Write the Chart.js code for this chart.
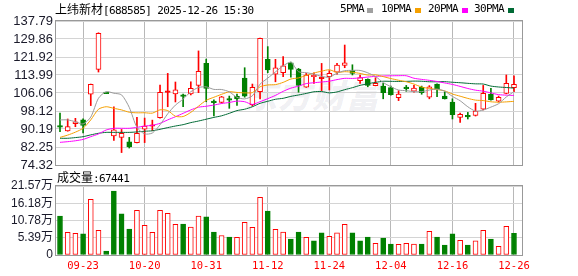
<!DOCTYPE html>
<html><head><meta charset="utf-8">
<script src="https://cdn.jsdelivr.net/npm/chart.js@4.4.1/dist/chart.umd.min.js"></script>
<style>
body{margin:0;background:#fff}
#wrap{position:relative;width:578px;height:276px;overflow:hidden;background:#fff}
.abs{position:absolute;white-space:nowrap;line-height:12px}
.cjk{font-family:"Noto Sans CJK SC",sans-serif;font-size:12px;color:#000}
.mono{font-family:"DejaVu Sans Mono",monospace;font-size:11px;letter-spacing:-0.6px;color:#000}
.sq{position:absolute;width:6px;height:5px}
.wm{position:absolute;left:244px;top:70px;font-family:"Noto Sans CJK SC",sans-serif;font-weight:900;font-style:italic;font-size:33px;color:rgba(40,40,80,0.08);letter-spacing:1px}
canvas{position:absolute;left:0}
</style></head>
<body>
<div id="wrap">
  <div class="wm">东方财富</div>
  <canvas id="pc" width="578" height="180" style="top:0"></canvas>
  <canvas id="vc" width="578" height="106" style="top:170px"></canvas>
  <div class="abs" style="left:55px;top:3px"><span class="cjk">上纬新材</span><span class="mono">[688585] 2025-12-26 15:30</span></div>
  <div class="abs mono" style="left:340px;top:3px">5PMA</div><div class="sq" style="left:367px;top:8px;background:#a0a0a0"></div>
  <div class="abs mono" style="left:381px;top:3px">10PMA</div><div class="sq" style="left:415px;top:8px;background:#f5a000"></div>
  <div class="abs mono" style="left:428px;top:3px">20PMA</div><div class="sq" style="left:462px;top:8px;background:#ff00ff"></div>
  <div class="abs mono" style="left:474px;top:3px">30PMA</div><div class="sq" style="left:508px;top:8px;background:#006a35"></div>
  <div class="abs" style="left:57px;top:171px"><span class="cjk">成交量</span><span class="mono">:67441</span></div>
</div>
<script>
const dates = ['09-18','09-19','09-22','09-23','09-24','09-25','09-26','09-29','09-30','10-09','10-10','10-20','10-21','10-22','10-23','10-24','10-27','10-28','10-30','10-31','11-03','11-04','11-05','11-06','11-07','11-10','11-11','11-12','11-13','11-14','11-17','11-18','11-19','11-20','11-21','11-24','11-25','11-26','11-27','11-28','12-01','12-02','12-03','12-04','12-05','12-08','12-09','12-10','12-11','12-12','12-15','12-16','12-17','12-18','12-19','12-22','12-23','12-24','12-25','12-26'];
const tickDates = ['09-23','10-20','10-31','11-12','11-24','12-04','12-16','12-26'];
const opens  = [91.5,89.3,92.5,94.2,105.5,116.5,105.9,87.1,86.5,84.5,84.2,90.1,91.4,95.2,106.3,105.6,104.8,105.6,109.4,119.1,102.0,101.9,103.1,104.6,112.6,100.9,106.6,120.9,114.3,115.0,119.4,116.6,108.6,113.2,112.4,113.2,115.2,118.2,115.9,111.5,112.1,109.3,109.1,108.4,104.0,108.2,106.9,108.6,104.2,110.0,104.7,102.1,95.3,95.7,96.2,98.9,105.6,102.4,105.9,108.4];
const highs  = [97.2,94.6,94.9,94.7,110.0,132.6,105.9,100.0,90.0,86.5,95.3,95.0,94.1,109.6,114.7,110.9,105.6,111.0,124.6,121.0,103.0,104.6,104.7,105.6,117.2,110.0,130.3,126.5,120.9,122.1,119.7,116.9,114.7,115.0,119.1,115.9,119.1,127.2,118.5,114.0,112.3,112.8,110.3,109.1,107.1,109.4,109.4,109.1,109.3,110.1,106.6,103.5,97.2,97.5,101.5,109.4,108.1,104.7,114.0,113.6];
const lows   = [89.0,89.2,91.2,88.5,100.5,115.3,105.8,85.2,79.8,81.8,84.0,84.2,89.5,95.0,100.0,102.1,100.0,105.2,106.2,102.2,96.0,101.6,99.3,100.6,104.2,100.3,103.4,115.0,111.0,113.2,113.0,106.4,108.5,110.3,107.1,107.4,114.4,117.2,114.0,110.3,108.8,109.2,103.5,105.1,102.7,106.8,106.4,105.5,103.5,104.4,103.4,94.6,93.1,94.6,95.9,98.6,102.9,102.1,105.7,106.6];
const closes = [91.0,91.2,93.4,91.8,109.9,132.4,105.8,89.8,88.3,82.3,88.3,91.5,91.7,106.4,106.6,107.4,104.6,108.1,115.6,108.1,101.8,104.4,102.9,103.5,104.7,108.6,130.1,116.2,117.2,118.0,116.5,109.4,114.0,113.9,113.0,114.7,118.4,119.4,114.7,112.8,109.4,110.3,106.2,105.3,105.6,108.0,108.2,106.2,108.8,107.7,103.5,96.5,96.7,95.5,98.1,105.9,103.0,104.2,110.3,109.9];
const volumes = [12.2,7.1,6.8,6.6,17.4,7.7,1.25,20.0,12.9,8.1,14.0,9.3,7.1,14.0,13.0,9.6,9.7,8.7,12.2,11.9,7.2,6.1,5.6,5.5,10.2,8.65,18.0,13.75,8.0,7.2,5.0,7.2,5.5,4.4,6.9,5.8,6.9,9.6,6.9,4.4,5.6,3.65,5.3,3.4,3.3,3.65,3.4,3.4,7.4,5.6,3.1,6.6,4.6,3.1,4.4,7.7,5.0,2.7,9.0,6.7441];
// MA values before enough in-window closes exist
const ma5Lead  = [94.2,94.2,93.4,92.4];
const ma10Lead = [86.5,87.5,88.8,90.5,94.2,98.9,100.0,99.3,98.6];
const ma20Lead = [84.3,84.6,85.0,85.6,86.8,88.0,89.75,90.5,90.5,90.5,90.9,91.5,91.8,92.7,94.2,95.6,97.1,98.6,99.8];
const ma30Lead = [86.1,86.1,86.4,86.8,87.6,88.3,88.7,88.7,88.7,88.7,88.9,89.2,89.4,90.05,90.8,91.5,92.1,93.0,93.7,94.5,95.3,96.0,97.1,98.3,98.9,100.0,101.5,102.4,103.3];
const priceTicks = [74.32,82.25,90.19,98.12,106.06,113.99,121.92,129.86,137.79];
const volTicks = [0,5.39,10.78,16.18,21.57];

const RED='#ff0000', GREEN='#008000';
function sma(n, lead){
  return closes.map((c,i)=>{
    if(i<lead.length) return {x:i,y:lead[i]};
    let s=0; for(let k=i-n+1;k<=i;k++) s+=closes[k];
    return {x:i,y:s/n};
  });
}
const up = closes.map((c,i)=>c>=opens[i]);
const volUp = closes.map((c,i)=> i===0 ? c>=opens[0] : c>=closes[i-1]);
const tickIdx = tickDates.map(d=>dates.indexOf(d));

const boxPlugin = {id:'box', afterDraw(ch){
  const a=ch.chartArea, c=ch.ctx; c.save(); c.strokeStyle='#999'; c.lineWidth=1;
  c.strokeRect(Math.round(a.left)-0.5, Math.round(a.top)-0.5, Math.round(a.right-a.left)+1, Math.round(a.bottom-a.top)+1);
  c.restore();
}};

const xCommon = (showLabels)=>({
  type:'linear', min:-0.52, max:60.04, offset:false,
  afterBuildTicks: ax=>{ ax.ticks = tickIdx.map(v=>({value:v})); },
  grid:{offset:false, color:'#b8b8b8', borderDash:[4,3], drawTicks:false, lineWidth:1},
  border:{display:false},
  ticks:{display:showLabels, autoSkip:false, maxRotation:0, padding:5, color:RED,
    font:{family:'DejaVu Sans Mono', size:10.5}, callback:v=>dates[v]}
});

Chart.defaults.animation=false;
Chart.defaults.font.family='Liberation Sans';

new Chart(document.getElementById('pc'), {
  type:'bar',
  data:{datasets:[
    {type:'line', data:sma(5,ma5Lead), borderColor:'#9a9a9a', borderWidth:1, pointRadius:0, tension:0.25},
    {type:'line', data:sma(10,ma10Lead), borderColor:'#f5a000', borderWidth:1, pointRadius:0, tension:0.25},
    {type:'line', data:sma(20,ma20Lead), borderColor:'#ff00ff', borderWidth:1, pointRadius:0, tension:0.25},
    {type:'line', data:sma(30,ma30Lead), borderColor:'#006a35', borderWidth:1, pointRadius:0, tension:0.25},
    {type:'bar', grouped:false, barThickness:5, minBarLength:1.5, borderWidth:1, borderSkipped:false,
      data: closes.map((c,i)=>({x:i, y:[opens[i], c]})),
      borderColor: up.map(u=>u?RED:GREEN),
      backgroundColor: closes.map((c,i)=> up[i] ? (Math.abs(c-opens[i])<0.6?RED:'#ffffff') : GREEN)},
    {type:'bar', grouped:false, barThickness:1, borderWidth:0,
      data: closes.map((c,i)=>({x:i, y:[lows[i], highs[i]]})),
      backgroundColor: up.map(u=>u?RED:GREEN)}
  ]},
  options:{responsive:false, animation:false,
    layout:{padding:{left:0,right:56,top:21,bottom:15}},
    plugins:{legend:{display:false}, tooltip:{enabled:false}},
    scales:{
      x: Object.assign(xCommon(false), {afterFit: ax=>{ax.height=0;}}),
      y:{type:'linear', min:74.32, max:137.79,
        afterBuildTicks: ax=>{ ax.ticks = priceTicks.map(v=>({value:v})); },
        afterFit: ax=>{ ax.width=56; },
        grid:{color:'#d4d4d4', drawTicks:false}, border:{display:false},
        ticks:{autoSkip:false, padding:3, color:'#1a1a2a', font:{size:13}, callback:v=>v.toFixed(2)}}
    }
  },
  plugins:[boxPlugin]
});

new Chart(document.getElementById('vc'), {
  type:'bar',
  data:{datasets:[
    {type:'bar', grouped:false, barThickness:5, borderWidth:1, borderSkipped:false,
      data: volumes.map((v,i)=>({x:i, y:v})),
      borderColor: volUp.map(u=>u?RED:GREEN),
      backgroundColor: volUp.map(u=>u?'#ffffff':GREEN)}
  ]},
  options:{responsive:false, animation:false,
    layout:{padding:{left:0,right:56,top:16,bottom:0}},
    plugins:{legend:{display:false}, tooltip:{enabled:false}},
    scales:{
      x: Object.assign(xCommon(true), {afterFit: ax=>{ax.height=21;}}),
      y:{type:'linear', min:0, max:21.57,
        afterBuildTicks: ax=>{ ax.ticks = volTicks.map(v=>({value:v})); },
        afterFit: ax=>{ ax.width=56; },
        grid:{color:'#d4d4d4', drawTicks:false}, border:{display:false},
        ticks:{autoSkip:false, padding:3, color:'#1a1a2a', font:{family:'Liberation Sans, Noto Sans CJK SC', size:12}, callback:v=> v===0?'0':v.toFixed(2)+'万'}}
    }
  },
  plugins:[boxPlugin]
});
</script>
</body></html>
